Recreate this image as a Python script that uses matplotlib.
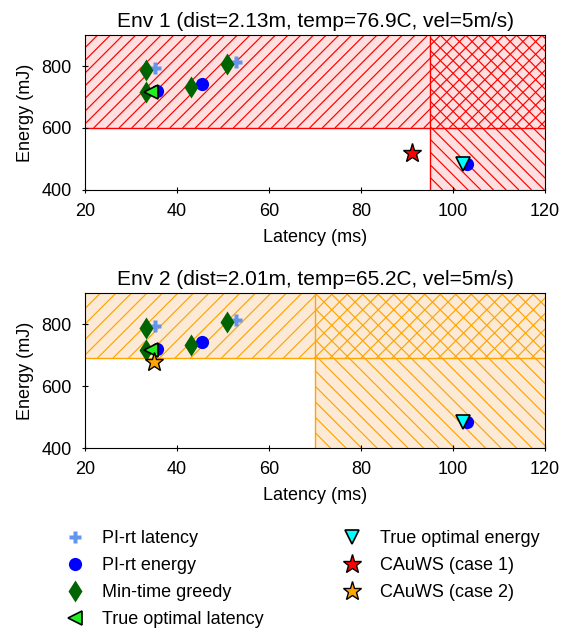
import matplotlib
matplotlib.use("Agg")
import numpy as np
import matplotlib.pyplot as plt
from matplotlib.lines import Line2D
from matplotlib.patches import Rectangle
from matplotlib.collections import LineCollection
from matplotlib.transforms import IdentityTransform

plt.rcParams['font.family'] = ['Liberation Sans', 'DejaVu Sans']

# ---- data ----
titles = ["Env 1 (dist=2.13m, temp=76.9C, vel=5m/s)",
          "Env 2 (dist=2.01m, temp=65.2C, vel=5m/s)"]
lat_limits = [95, 70]        # latency constraint per env (ms)
energy_limits = [600, 690]   # energy constraint per env (mJ)

pi_lat_x = [35.2, 52.8]
pi_lat_y = [795, 812]
pi_en_x = [35.6, 45.4, 103.0]
pi_en_y = [719, 742, 484]
greedy_x = [33.3, 33.3, 43.0, 50.9]
greedy_y = [787, 716, 732, 808]
opt_lat_x = [34.3]
opt_lat_y = [716]
opt_en_x = [102.2]
opt_en_y = [484]
cauws1_x = [91.0]
cauws1_y = [520]
cauws2_x = [35.0]
cauws2_y = [677]

fill_colors = ['#ffe0e0', '#fcead6']
hatch_colors = ['red', 'orange']
hatch_spacing = [12.7, 15.5]   # pixels between hatch lines

FS = 13

fig = plt.figure(figsize=(5.61, 6.32), dpi=100)
ax1 = fig.add_axes([0.1515, 0.6994, 0.82, 0.2452])
ax2 = fig.add_axes([0.1515, 0.2911, 0.82, 0.2452])


def hatch_region(ax, x0, x1, y0, y1, color, spacing, direction):
    """Draw diagonal hatch lines (in pixel space) clipped to a data rectangle."""
    rect = Rectangle((x0, y0), x1 - x0, y1 - y0, transform=ax.transData,
                     facecolor='none', edgecolor='none')
    ax.add_patch(rect)
    (px0, py0), (px1, py1) = ax.transData.transform([(x0, y0), (x1, y1)])
    w = px1 - px0
    h = py1 - py0
    segs = []
    offs = np.arange(-h - spacing, w + spacing, spacing)
    for c in offs:
        if direction == '/':
            segs.append([(px0 + c, py0), (px0 + c + h, py1)])
        else:
            segs.append([(px0 + c + h, py0), (px0 + c, py1)])
    lc = LineCollection(segs, colors=color, linewidths=0.85,
                        transform=IdentityTransform(), zorder=0.5)
    ax.add_collection(lc, autolim=False)
    lc.set_clip_path(rect)


for i, ax in enumerate([ax1, ax2]):
    xl, yl = lat_limits[i], energy_limits[i]
    fc, hc = fill_colors[i], hatch_colors[i]
    ax.set_xlim(20, 120)
    ax.set_ylim(400, 900)
    # energy violation region (y > limit)
    ax.fill_between([20, 120], [yl, yl], [900, 900], facecolor=fc,
                    linewidth=0, zorder=0)
    # latency violation region (x > limit)
    ax.fill_betweenx([400, yl], [xl, xl], [120, 120], facecolor=fc,
                     linewidth=0, zorder=0)
    hatch_region(ax, 20, 120, yl, 900, hc, hatch_spacing[i], '/')
    hatch_region(ax, xl, 120, 400, 900, hc, hatch_spacing[i], '\\')
    ax.axhline(yl, color=hc, lw=1.0, zorder=1)
    ax.axvline(xl, color=hc, lw=1.0, zorder=1)

    ax.plot(pi_lat_x, pi_lat_y, 'P', color='cornflowerblue', ms=8.5, mec='none', ls='none', zorder=3)
    ax.plot(pi_en_x, pi_en_y, 'o', color='blue', ms=9.5, mec='none', ls='none', zorder=3)
    ax.plot(greedy_x, greedy_y, 'd', color='darkgreen', ms=11.5, mec='none', ls='none', zorder=3)
    ax.plot(opt_lat_x, opt_lat_y, '<', color='#22ee22', ms=10, mec='black', mew=1.2, ls='none', zorder=3)
    ax.plot(opt_en_x, opt_en_y, 'v', color='cyan', ms=10, mec='black', mew=1.2, ls='none', zorder=3)
    if i == 0:
        ax.plot(cauws1_x, cauws1_y, '*', color='red', ms=14, mec='black', mew=1.0, ls='none', zorder=3)
    else:
        ax.plot(cauws2_x, cauws2_y, '*', color='orange', ms=14, mec='black', mew=1.0, ls='none', zorder=3)

    ax.set_title(titles[i], fontsize=15, pad=6)
    ax.set_xlabel("Latency (ms)", fontsize=FS, labelpad=6)
    ax.set_ylabel("Energy (mJ)", fontsize=FS, labelpad=5)
    ax.set_xticks([20, 40, 60, 80, 100, 120])
    ax.set_yticks([400, 600, 800])
    ax.tick_params(labelsize=FS, direction='inout', length=5, pad=7)

handles = [
    Line2D([], [], marker='P', color='cornflowerblue', ms=8.5, mec='none', ls='none'),
    Line2D([], [], marker='o', color='blue', ms=9.5, mec='none', ls='none'),
    Line2D([], [], marker='d', color='darkgreen', ms=11.5, mec='none', ls='none'),
    Line2D([], [], marker='<', color='#22ee22', ms=10, mec='black', mew=1.2, ls='none'),
    Line2D([], [], marker='v', color='cyan', ms=10, mec='black', mew=1.2, ls='none'),
    Line2D([], [], marker='*', color='red', ms=14, mec='black', mew=1.0, ls='none'),
    Line2D([], [], marker='*', color='orange', ms=14, mec='black', mew=1.0, ls='none'),
]
labels = ["PI-rt latency", "PI-rt energy", "Min-time greedy", "True optimal latency",
          "True optimal energy", "CAuWS (case 1)", "CAuWS (case 2)"]
fig.legend(handles, labels, loc='center', bbox_to_anchor=(0.535, 1 - 579 / 632),
           ncol=2, frameon=False, fontsize=FS, columnspacing=4.1, handlelength=1.5,
           handletextpad=0.8, labelspacing=0.56)

fig.savefig("out.png", dpi=100)
